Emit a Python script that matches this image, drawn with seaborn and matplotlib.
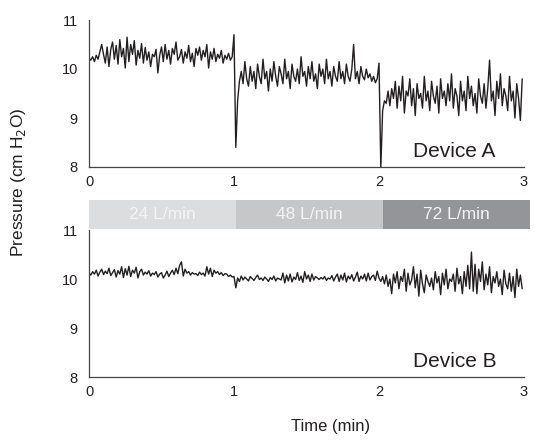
import numpy as np
import pandas as pd
import matplotlib
matplotlib.use('Agg')
import matplotlib.pyplot as plt
import seaborn as sns

# pressure traces, one list per flow segment (1 min each)
device_a_24 = [10.22, 10.18, 10.25, 10.15, 10.28, 10.20, 10.35, 10.50, 10.30, 10.12,
               10.45, 10.05, 10.40, 10.55, 10.20, 10.48, 10.10, 10.60, 10.25, 10.42,
               10.02, 10.65, 10.15, 10.50, 10.30, 10.58, 10.08, 10.38, 10.22, 10.52,
               10.12, 10.44, 10.18, 10.35, 10.05, 10.30, 10.25, 10.40, 9.92, 10.28,
               10.45, 10.15, 10.50, 10.20, 10.38, 10.10, 10.42, 10.30, 10.55, 10.18,
               10.25, 10.40, 10.12, 10.35, 10.22, 10.48, 10.15, 10.32, 10.05, 10.42,
               10.28, 10.45, 10.18, 10.38, 10.25, 10.50, 10.02, 10.35, 10.20, 10.42,
               10.15, 10.30, 10.22, 10.38, 10.12, 10.28, 10.20, 10.32, 10.18, 10.25]
device_a_48 = [10.70, 8.40, 9.35, 9.75, 9.95, 9.70, 10.15, 9.80, 9.65, 10.05,
               9.75, 9.95, 9.60, 10.10, 9.85, 9.70, 10.20, 9.80, 9.95, 9.55,
               10.00, 9.75, 10.15, 9.85, 9.65, 10.05, 9.90, 9.70, 10.20, 9.80,
               9.95, 9.60, 10.10, 9.85, 9.75, 10.00, 9.70, 10.25, 9.85, 9.95,
               9.65, 10.05, 9.80, 10.15, 9.75, 9.90, 9.60, 10.10, 9.85, 10.00,
               9.70, 10.20, 9.80, 9.95, 9.65, 10.05, 9.85, 9.75, 10.15, 9.80,
               9.95, 9.70, 10.10, 9.85, 9.75, 10.00, 10.50, 9.80, 9.95, 9.70,
               10.05, 9.85, 9.78, 10.00, 9.82, 9.90, 9.75, 9.85, 9.72, 9.80]
device_a_72 = [10.12, 7.98, 9.15, 9.35, 9.30, 9.55, 9.25, 9.60, 9.40, 9.75,
               9.20, 9.65, 9.35, 9.85, 9.10, 9.55, 9.45, 9.80, 9.25, 9.60,
               9.05, 9.70, 9.40, 9.50, 9.20, 9.85, 9.35, 9.55, 9.15, 9.75,
               9.45, 9.30, 9.65, 9.10, 9.80, 9.40, 9.55, 9.25, 9.70, 9.35,
               9.90, 9.20, 9.60, 9.45, 9.05, 9.75, 9.35, 9.55, 9.15, 9.85,
               9.40, 9.65, 9.25, 9.50, 9.10, 9.80, 9.45, 9.30, 9.70, 9.20,
               9.60, 10.18, 9.35, 9.55, 9.05, 9.75, 9.40, 9.90, 9.25, 9.60,
               9.45, 9.15, 9.85, 9.35, 9.55, 9.00, 9.70, 9.40, 8.95, 9.80]

device_b_24 = [10.12, 10.08, 10.15, 10.10, 10.18, 10.06, 10.14, 10.20, 10.09, 10.16,
               10.11, 10.22, 10.07, 10.13, 10.19, 10.04, 10.17, 10.10, 10.25, 10.03,
               10.21, 10.08, 10.26, 10.05, 10.18, 10.12, 10.24, 10.02, 10.15, 10.20,
               10.08, 10.14, 10.10, 10.17, 10.06, 10.12, 10.09, 10.15, 10.04, 10.10,
               10.13, 10.02, 10.08, 10.16, 10.05, 10.12, 10.18, 10.09, 10.22, 10.11,
               10.28, 10.35, 10.06, 10.20, 10.12, 10.15, 10.08, 10.13, 10.10, 10.11,
               10.07, 10.14, 10.09, 10.12, 10.06, 10.25, 10.10, 10.22, 10.05, 10.18,
               10.12, 10.15, 10.09, 10.13, 10.07, 10.11, 10.10, 10.05, 10.08, 10.04]
device_b_48 = [10.05, 9.82, 10.02, 9.95, 10.06, 9.98, 10.04, 10.00, 9.96, 10.05,
               10.01, 9.97, 10.03, 10.08, 9.99, 10.02, 9.97, 10.04, 10.00, 9.95,
               10.03, 9.99, 10.06, 9.96, 10.02, 10.00, 9.98, 10.12, 9.92, 10.08,
               9.96, 10.10, 9.94, 10.04, 9.99, 10.13, 9.97, 10.06, 9.93, 10.15,
               10.00, 10.08, 9.95, 10.10, 9.98, 10.05, 10.02, 9.99, 10.03, 10.00,
               10.05, 9.97, 10.02, 10.00, 10.07, 9.96, 10.04, 10.10, 9.95, 10.08,
               9.98, 10.12, 9.94, 10.06, 10.00, 10.09, 9.96, 10.04, 10.14, 9.95,
               10.06, 10.00, 10.10, 9.96, 10.12, 9.98, 10.05, 10.08, 9.97, 10.16]
device_b_72 = [10.02, 9.95, 10.05, 9.90, 10.08, 9.85, 10.00, 9.70, 10.10, 9.92,
               10.15, 9.80, 10.05, 9.95, 10.20, 9.75, 10.12, 9.88, 9.98, 10.25,
               9.82, 10.10, 9.65, 10.18, 9.90, 9.72, 10.08, 9.95, 9.85, 10.02,
               9.78, 10.15, 9.92, 10.05, 9.68, 10.12, 9.88, 10.20, 9.80, 10.00,
               9.95, 10.10, 9.75, 10.22, 9.90, 10.05, 9.70, 10.15, 9.85, 10.28,
               9.80, 10.55, 9.75, 10.30, 9.70, 10.20, 9.95, 10.35, 9.78, 10.10,
               9.88, 10.25, 9.72, 10.05, 9.92, 10.15, 9.85, 10.00, 9.68, 10.18,
               9.90, 9.80, 10.12, 9.75, 10.05, 9.62, 10.20, 9.85, 10.08, 9.80]

flow_labels = ['24 L/min', '48 L/min', '72 L/min']
flow_colors = ['#dcdddf', '#c6c7c9', '#939598']
devices = ['Device A', 'Device B']
yticks = [8, 9, 10, 11]
xticks = [0, 1, 2, 3]


def to_frame(segments):
    # each segment covers one minute, samples evenly spaced inside it
    parts = []
    for i, seg in enumerate(segments):
        t = i + np.arange(len(seg)) / len(seg)
        parts.append(pd.DataFrame({'time': t, 'pressure': seg}))
    return pd.concat(parts, ignore_index=True)


df_a = to_frame([device_a_24, device_a_48, device_a_72])
df_b = to_frame([device_b_24, device_b_48, device_b_72])

sns.set_style('white')
plt.rcParams['font.family'] = ['Liberation Sans', 'DejaVu Sans']
ink = '#231f20'

W, H = 535, 440
fig = plt.figure(figsize=(W / 100, H / 100), dpi=100)

def px_axes(l, t, r, b):
    return fig.add_axes([l / W, 1 - b / H, (r - l) / W, (b - t) / H])

ax_a = px_axes(89, 20, 524, 167)
ax_b = px_axes(89, 230, 524, 377)

for ax, df, name in [(ax_a, df_a, devices[0]), (ax_b, df_b, devices[1])]:
    sns.lineplot(data=df, x='time', y='pressure', ax=ax, color=ink,
                 linewidth=1.0, estimator=None, sort=False)
    ax.set_xlim(0, 3)
    ax.set_ylim(8, 11)
    ax.set_xticks(xticks)
    ax.set_yticks(yticks)
    ax.set_xlabel('')
    ax.set_ylabel('')
    sns.despine(ax=ax)
    for s in ['left', 'bottom']:
        ax.spines[s].set_color('#444444')
        ax.spines[s].set_linewidth(0.9)
    ax.tick_params(direction='out', length=4, width=0.8, color='#444444',
                   labelsize=10.5, labelcolor=ink, pad=2)
    ax.tick_params(axis='y', pad=4)
    ax.text(2.52, 8.2, name, fontsize=15, color=ink, ha='center', va='baseline')

# flow-rate band between the panels
ax_band = px_axes(89, 200, 530, 229)
ax_band.barh([0, 0, 0], [1, 1, 1], left=[0, 1, 2], height=1,
             color=flow_colors, edgecolor='none')
for i, lab in enumerate(flow_labels):
    ax_band.text(i + 0.5, 0, lab, ha='center', va='center', color='#f4f4f4',
                 fontsize=12.5)
ax_band.set_xlim(0, 3)
ax_band.set_ylim(-0.5, 0.5)
ax_band.axis('off')

fig.text(19 / W, 1 - 182 / H, 'Pressure (cm H$_2$O)', rotation=90,
         ha='center', va='center', fontsize=12.5, color=ink)
fig.text(331 / W, 1 - 426 / H, 'Time (min)', ha='center', va='center',
         fontsize=12, color=ink)

fig.savefig('out.png', dpi=100)
